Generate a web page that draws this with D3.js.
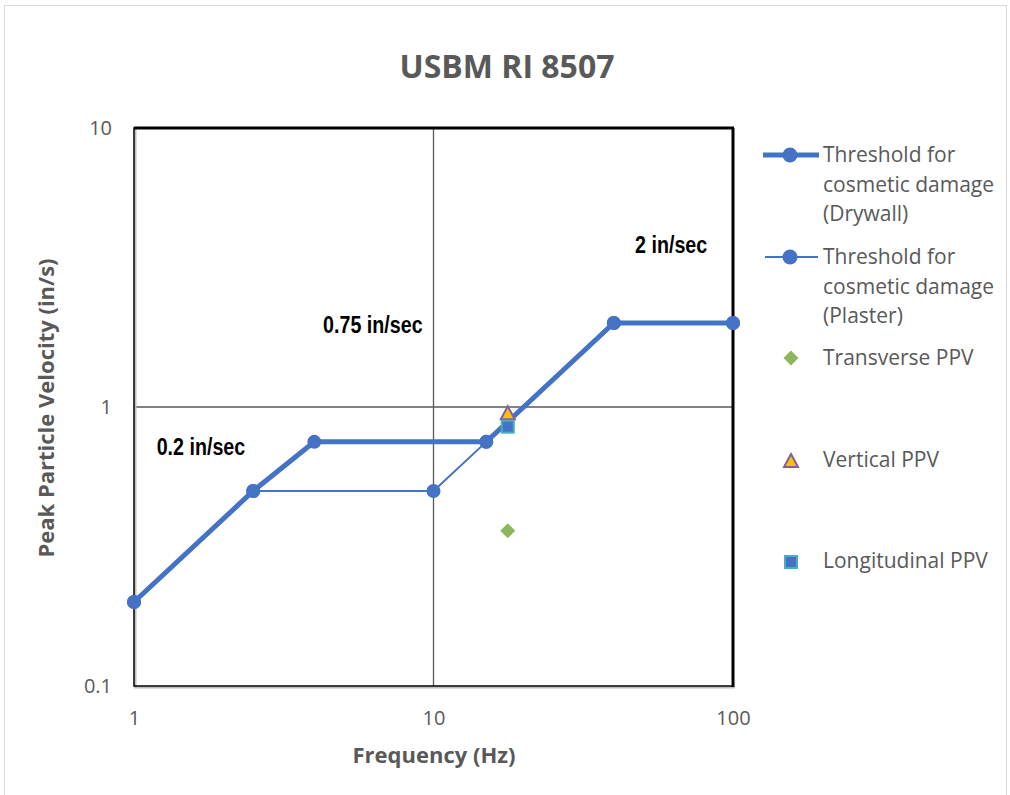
<!DOCTYPE html>
<html><head><meta charset="utf-8">
<script src="https://cdn.jsdelivr.net/npm/d3@7"></script>
<style>body{margin:0;background:#fff}svg{display:block}</style>
</head><body>
<svg id="c" width="1010" height="795"></svg>
<script>
const drywallFreq = [1, 2.5, 4, 15, 40, 100];
const drywallPPV  = [0.2, 0.5, 0.75, 0.75, 2, 2];
const plasterFreq = [1, 2.5, 10, 15, 40, 100];
const plasterPPV  = [0.2, 0.5, 0.5, 0.75, 2, 2];
const measFreq = [17.7];
const transversePPV = [0.36];
const verticalPPV = [0.95];
const longitudinalPPV = [0.85];
const xTicks = [1, 10, 100];
const yTicks = [0.1, 1, 10];
const annotations = [
  {f: 1.19, v: 0.673, t: "0.2 in/sec"},
  {f: 4.28, v: 1.84, t: "0.75 in/sec"},
  {f: 47.1, v: 3.56, t: "2 in/sec"}
];
const legendLabels = [
  ["Threshold for", "cosmetic damage", "(Drywall)"],
  ["Threshold for", "cosmetic damage", "(Plaster)"],
  ["Transverse PPV"], ["Vertical PPV"], ["Longitudinal PPV"]
];

const svg = d3.select("#c");
const font = "'Open Sans', 'Noto Sans', sans-serif";
const L = 134, R = 733, T = 128, B = 686;
const x = d3.scaleLog().domain([1, 100]).range([L, R]);
const y = d3.scaleLog().domain([0.1, 10]).range([B, T]);

// outer border
svg.append("rect").attr("x", 4.5).attr("y", 5.5).attr("width", 1002).attr("height", 800)
  .attr("fill", "#fff").attr("stroke", "#d9d9d9").attr("stroke-width", 1);

// title
svg.append("text").attr("x", 507).attr("y", 78).attr("text-anchor", "middle")
  .attr("font-family", font).attr("font-weight", "bold").attr("font-size", 32)
  .attr("fill", "#595959").text("USBM RI 8507");

// grid lines
svg.append("line").attr("x1", x(10)).attr("x2", x(10)).attr("y1", T).attr("y2", B)
  .attr("stroke", "#595959").attr("stroke-width", 1.3);
svg.append("line").attr("x1", L).attr("x2", R).attr("y1", y(1)).attr("y2", y(1))
  .attr("stroke", "#595959").attr("stroke-width", 1.3);

// plot frame: shadow + black
svg.append("line").attr("x1", L + 1.5).attr("x2", L + 1.5).attr("y1", T).attr("y2", B + 2)
  .attr("stroke", "#bfbfbf").attr("stroke-width", 2);
svg.append("line").attr("x1", L).attr("x2", R + 2).attr("y1", B + 1.5).attr("y2", B + 1.5)
  .attr("stroke", "#bfbfbf").attr("stroke-width", 2);
svg.append("rect").attr("x", L).attr("y", T).attr("width", R - L).attr("height", B - T)
  .attr("fill", "none").attr("stroke", "#000").attr("stroke-width", 1.5);
svg.append("line").attr("x1", L).attr("x2", R + 1).attr("y1", T).attr("y2", T)
  .attr("stroke", "#000").attr("stroke-width", 3);
svg.append("line").attr("x1", R).attr("x2", R).attr("y1", T).attr("y2", B + 1)
  .attr("stroke", "#000").attr("stroke-width", 3);

// axes tick labels
const xAxis = d3.axisBottom(x).tickValues(xTicks).tickFormat(d3.format("")).tickSize(0).tickPadding(25);
const gx = svg.append("g").attr("transform", `translate(0,${B})`).call(xAxis);
gx.select(".domain").remove();
gx.selectAll("text").attr("font-family", font).attr("font-size", 20).attr("fill", "#595959");
const yAxis = d3.axisLeft(y).tickValues(yTicks).tickFormat(d => d < 1 ? "0.1" : d3.format("")(d)).tickSize(0).tickPadding(22);
const gy = svg.append("g").attr("transform", `translate(${L},0)`).call(yAxis);
gy.select(".domain").remove();
gy.selectAll("text").attr("font-family", font).attr("font-size", 20).attr("fill", "#595959");

// axis titles
svg.append("text").attr("x", 434).attr("y", 763).attr("text-anchor", "middle")
  .attr("font-family", font).attr("font-weight", "bold").attr("font-size", 22)
  .attr("fill", "#595959").text("Frequency (Hz)");
svg.append("text").attr("transform", `translate(54,408) rotate(-90)`).attr("text-anchor", "middle")
  .attr("font-family", font).attr("font-weight", "bold").attr("font-size", 22)
  .attr("fill", "#595959").text("Peak Particle Velocity (in/s)");

const blue = "#4472C4";
const line = d3.line().x(d => x(d[0])).y(d => y(d[1]));
const plaster = plasterFreq.map((f, i) => [f, plasterPPV[i]]);
const drywall = drywallFreq.map((f, i) => [f, drywallPPV[i]]);

svg.append("path").datum(plaster).attr("d", line).attr("fill", "none").attr("stroke", blue).attr("stroke-width", 2);
svg.selectAll(".pm").data(plaster).join("circle").attr("cx", d => x(d[0])).attr("cy", d => y(d[1])).attr("r", 7).attr("fill", blue);
svg.append("path").datum(drywall).attr("d", line).attr("fill", "none").attr("stroke", blue).attr("stroke-width", 5);
svg.selectAll(".dm").data(drywall).join("circle").attr("cx", d => x(d[0])).attr("cy", d => y(d[1])).attr("r", 7).attr("fill", blue);

// markers
function diamond(g, cx, cy) {
  g.append("path").attr("d", `M${cx},${cy-7.5}L${cx+7.5},${cy}L${cx},${cy+7.5}L${cx-7.5},${cy}Z`).attr("fill", "#8DB75A");
}
function tri(g, cx, cy) {
  g.append("path").attr("d", `M${cx},${cy-7}L${cx+7},${cy+6}L${cx-7},${cy+6}Z`)
    .attr("fill", "#FFC000").attr("stroke", "#7F5FA8").attr("stroke-width", 2);
}
function sq(g, cx, cy) {
  g.append("rect").attr("x", cx - 6).attr("y", cy - 6).attr("width", 12).attr("height", 12)
    .attr("fill", blue).attr("stroke", "#4BACC6").attr("stroke-width", 2);
}
measFreq.forEach((f, i) => {
  diamond(svg, x(f), y(transversePPV[i]));
  tri(svg, x(f), y(verticalPPV[i]));
  sq(svg, x(f), y(longitudinalPPV[i]));
});

// annotations (condensed bold)
svg.selectAll(".ann").data(annotations).join("text")
  .attr("transform", d => `translate(${x(d.f)},${y(d.v)}) scale(0.82,1)`)
  .attr("font-family", "'Liberation Sans', Arial, sans-serif")
  .attr("font-weight", "bold").attr("font-size", 24).attr("fill", "#000").text(d => d.t);

// legend
const lg = svg.append("g");
const lx = 823;
const lyStart = [162, 264, 365, 467, 568];
legendLabels.forEach((lines, i) => {
  lines.forEach((t, j) => {
    lg.append("text").attr("x", lx).attr("y", lyStart[i] + j * 29.5)
      .attr("font-family", font).attr("font-size", 21).attr("fill", "#595959").text(t);
  });
});
lg.append("line").attr("x1", 763).attr("x2", 819).attr("y1", 155).attr("y2", 155).attr("stroke", blue).attr("stroke-width", 5);
lg.append("circle").attr("cx", 790).attr("cy", 155).attr("r", 7.5).attr("fill", blue);
lg.append("line").attr("x1", 765).attr("x2", 818).attr("y1", 257).attr("y2", 257).attr("stroke", blue).attr("stroke-width", 2);
lg.append("circle").attr("cx", 790).attr("cy", 257).attr("r", 7.5).attr("fill", blue);
diamond(lg, 791, 358);
tri(lg, 791, 461);
sq(lg, 791, 562);
</script>
</body></html>
